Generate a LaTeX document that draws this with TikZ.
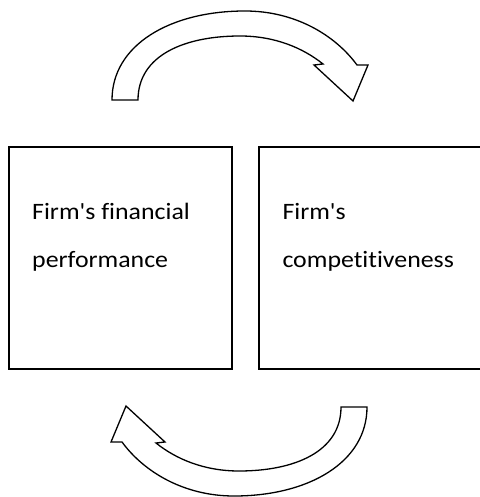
\documentclass[tikz,border=0pt]{standalone}
\usepackage{fontspec}
\newfontfamily\bodyfont{Carlito}[Ligatures=NoCommon,FakeStretch=1.1]
\usepackage{tikz}
\usetikzlibrary{positioning}

\begin{document}
\begin{tikzpicture}[x=1pt,y=-1pt,
	box/.style={rectangle,draw,line width=1.3pt,inner sep=0pt,outer sep=0pt,
		minimum width=223pt,minimum height=222pt},
	txt/.style={align=left,anchor=base west,inner sep=0pt,
		font=\bodyfont\fontsize{23.5}{48.7}\selectfont},
	turn/.style={draw,fill=white,line width=1.3pt}]
	\useasboundingbox (0,0) rectangle (479,497);
	% the two boxes
	\node [box,anchor=north west] (perf) at (9,147) {};
	\node [box,right=27pt of perf] (comp) {};
	% base anchor sits on the last line
	\node [txt] (perftxt) at (32,267.7) {Firm's financial\\performance};
	\node [txt] (comptxt) at (282.3,267.7) {Firm's\\competitiveness};
	% curved arrows, the lower one is the upper one turned round
	\foreach \a in {0,180}
		\draw [turn,rotate around={\a:(239.5,253.5)}]
			(112,100) .. controls (112,45) and (170,11) .. (245,11)
			.. controls (295,11) and (335,35) .. (357,65)
			-- (368,65) -- (353,101) -- (314,65) -- (323,64)
			.. controls (303,48) and (275,36) .. (240,36)
			.. controls (185,36) and (138,55) .. (138,100) -- cycle;
\end{tikzpicture}
\end{document}
